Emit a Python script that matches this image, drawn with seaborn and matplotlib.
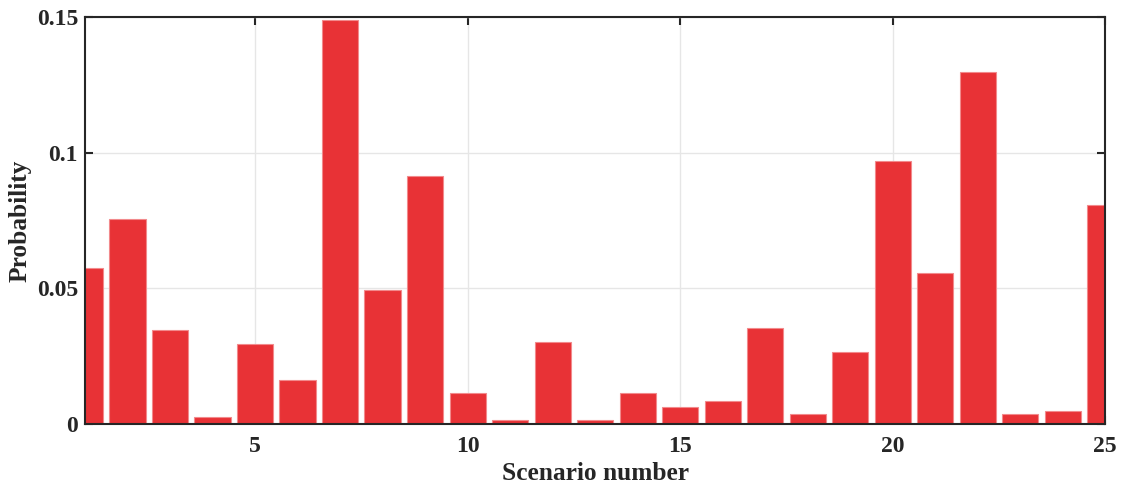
import matplotlib
matplotlib.use("Agg")
import matplotlib.pyplot as plt
import seaborn as sns
import pandas as pd
import numpy as np

scenarios = list(range(1, 26))
probabilities = [0.0575, 0.0756, 0.0346, 0.0026, 0.0295, 0.0162, 0.1489, 0.0494,
                 0.0914, 0.0114, 0.0015, 0.0302, 0.0015, 0.0114, 0.0063, 0.0085,
                 0.0354, 0.0037, 0.0265, 0.0969, 0.0557, 0.1297, 0.0037, 0.0048,
                 0.0807]
xticks = [5, 10, 15, 20, 25]
yticks = [0, 0.05, 0.1, 0.15]
ytick_labels = ["0", "0.05", "0.1", "0.15"]

sns.set_theme(style="white")
plt.rcParams['font.family'] = ['Liberation Serif', 'DejaVu Serif']
plt.rcParams['font.weight'] = 'bold'

df = pd.DataFrame({"Scenario": scenarios, "Probability": probabilities})

fig = plt.figure(figsize=(11.25, 4.9), dpi=100)
ax = fig.add_axes([0.0756, 0.1347, 0.9067, 0.8306])
ax.set_axisbelow(True)
ax.grid(True, color="#e6e6e6", linewidth=1)
sns.barplot(data=df, x="Scenario", y="Probability", native_scale=True, width=0.85,
            color="#e83236", saturation=1, edgecolor="#f28a8c", linewidth=0.8, ax=ax)
ax.set_xlim(1, 25)
ax.set_ylim(0, 0.15)
ax.set_xticks(xticks)
ax.set_xticklabels([str(t) for t in xticks])
ax.set_yticks(yticks)
ax.set_yticklabels(ytick_labels)
ax.tick_params(direction="in", length=6, width=1.5, colors="#262626", labelsize=17,
               top=True, right=True, bottom=True, left=True)
ax.tick_params(axis="x", pad=9)
ax.tick_params(axis="y", pad=5)
for lab in ax.get_xticklabels() + ax.get_yticklabels():
    lab.set_fontweight("bold")
for s in ax.spines.values():
    s.set_visible(True)
    s.set_linewidth(1.5)
    s.set_color("#262626")
ax.set_xlabel("Scenario number", fontsize=18.3, fontweight="bold", color="#262626", labelpad=3)
ax.set_ylabel("Probability", fontsize=18.3, fontweight="bold", color="#262626", labelpad=4)
fig.savefig("out.png", dpi=100)
